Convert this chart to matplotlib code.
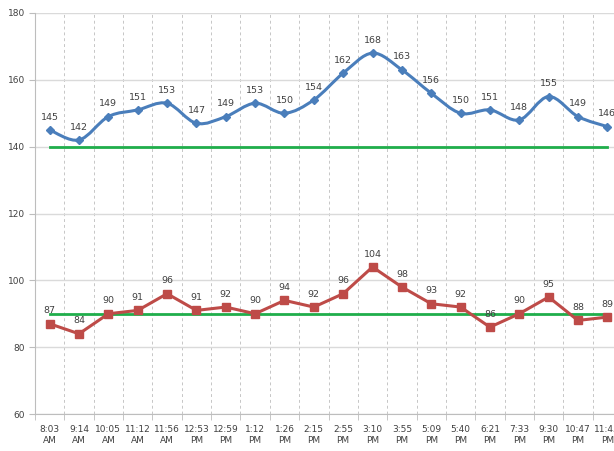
import matplotlib
matplotlib.use("Agg")
import matplotlib.pyplot as plt
from matplotlib.path import Path
from matplotlib.patches import PathPatch

# время замеров и показания давления
times = ["8:03\nAM", "9:14\nAM", "10:05\nAM", "11:12\nAM", "11:56\nAM",
         "12:53\nPM", "12:59\nPM", "1:12\nPM", "1:26\nPM", "2:15\nPM",
         "2:55\nPM", "3:10\nPM", "3:55\nPM", "5:09\nPM", "5:40\nPM",
         "6:21\nPM", "7:33\nPM", "9:30\nPM", "10:47\nPM", "11:45\nPM"]
systolic = [145, 142, 149, 151, 153, 147, 149, 153, 150, 154,
            162, 168, 163, 156, 150, 151, 148, 155, 149, 146]
diastolic = [87, 84, 90, 91, 96, 91, 92, 90, 94, 92,
             96, 104, 98, 93, 92, 86, 90, 95, 88, 89]
sys_limit = 140
dia_limit = 90
y_ticks = [60, 80, 100, 120, 140, 160, 180]

BLUE = "#4A7EBB"
RED = "#BE4B48"
GREEN = "#1FAE4B"
TXT = "#404040"


def smooth_path(xs, ys):
    # кривая Безье через точки (как сглаженная линия в Excel)
    verts = [(xs[0], ys[0])]
    codes = [Path.MOVETO]
    n = len(xs)
    for i in range(n - 1):
        x0, y0 = xs[max(i - 1, 0)], ys[max(i - 1, 0)]
        x1, y1 = xs[i], ys[i]
        x2, y2 = xs[i + 1], ys[i + 1]
        x3, y3 = xs[min(i + 2, n - 1)], ys[min(i + 2, n - 1)]
        verts += [(x1 + (x2 - x0) / 6, y1 + (y2 - y0) / 6),
                  (x2 - (x3 - x1) / 6, y2 - (y3 - y1) / 6),
                  (x2, y2)]
        codes += [Path.CURVE4] * 3
    return Path(verts, codes)


x = list(range(len(times)))

fig = plt.figure(figsize=(6.14, 4.51), dpi=100)
ax = fig.add_axes([35 / 614, 37 / 451, 587 / 614, 401 / 451])

ax.set_xlim(-0.5, len(times) - 0.5)
ax.set_ylim(60, 180)

# сетка
ax.set_yticks(y_ticks)
ax.yaxis.grid(True, color="#DADADA", lw=1.0)
ax.set_xticks(x)
ax.set_xticklabels(times)
ax.set_xticks([i + 0.5 for i in range(-1, len(times))], minor=True)
ax.xaxis.grid(True, which="minor", color="#C6C6C6", lw=0.7, ls=(0, (3, 3)))
ax.set_axisbelow(True)

ax.tick_params(axis="x", which="major", length=0, pad=8,
               labelsize=6.5, labelcolor=TXT)
ax.tick_params(axis="x", which="minor", length=4, color="#BDBDBD")
ax.tick_params(axis="y", length=4, color="#BDBDBD", labelsize=6.5,
               labelcolor=TXT, pad=3)
for s in ["top", "right"]:
    ax.spines[s].set_visible(False)
for s in ["left", "bottom"]:
    ax.spines[s].set_color("#BDBDBD")

# пределы нормы
ax.plot([x[0], x[-1]], [sys_limit, sys_limit], color=GREEN, lw=2, zorder=3)
ax.plot([x[0], x[-1]], [dia_limit, dia_limit], color=GREEN, lw=2, zorder=3)

# верхнее давление (сглаженная линия)
ax.add_patch(PathPatch(smooth_path(x, systolic), fill=False,
                       edgecolor=BLUE, lw=2.2, zorder=4))
ax.plot(x, systolic, ls="none", marker="D", ms=4.5, color=BLUE, zorder=5)

# нижнее давление
ax.plot(x, diastolic, color=RED, lw=2.2, marker="s", ms=6, zorder=5)

for xi, v in zip(x, systolic):
    ax.annotate(str(v), (xi, v), xytext=(0, 6), textcoords="offset points",
                ha="center", va="bottom", fontsize=6.8, color=TXT)
for xi, v in zip(x, diastolic):
    ax.annotate(str(v), (xi, v), xytext=(0, 6), textcoords="offset points",
                ha="center", va="bottom", fontsize=6.8, color=TXT)

fig.savefig("out.png", dpi=100)
